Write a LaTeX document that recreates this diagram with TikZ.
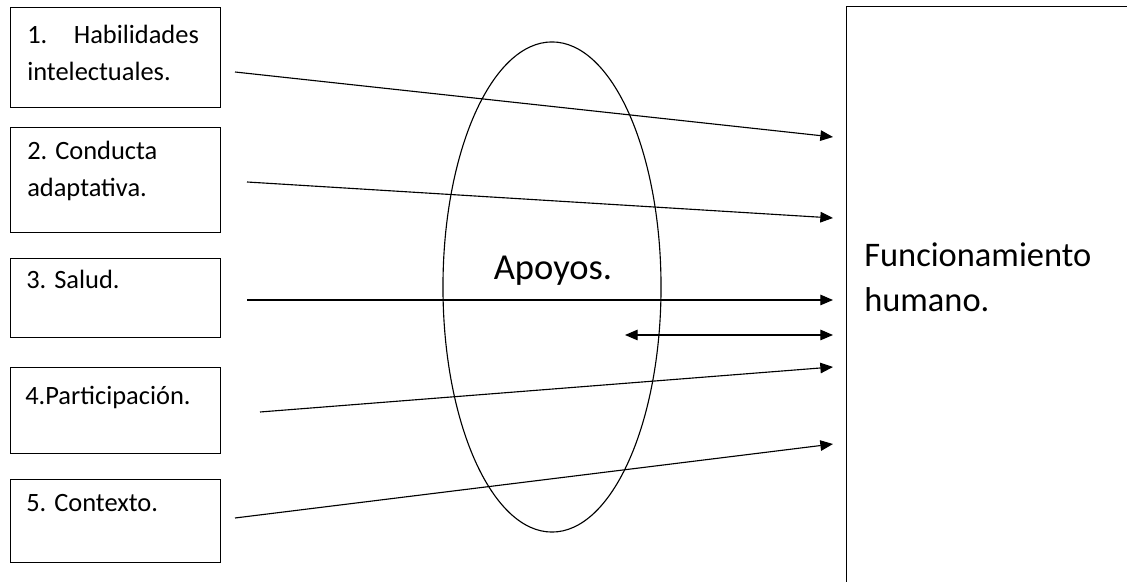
\documentclass[tikz,border=0pt]{standalone}
\usepackage{fontspec}
\setmainfont{Carlito}
\usepackage{tikz}
\usetikzlibrary{shapes,positioning,arrows.meta}

\tikzset{
  caja/.style={rectangle,draw,line width=0.8pt,minimum width=5.25cm,anchor=north west,inner sep=0pt},
  txt/.style={anchor=base west,align=left,inner sep=0pt,font=\fontsize{18.8}{26.5}\selectfont},
  flecha/.style={line width=0.8pt,-{Triangle[length=9pt,width=7.5pt]}}
}

\begin{document}
\begin{tikzpicture}[x=0.025cm,y=-0.025cm]
    \useasboundingbox (0,0) rectangle (1127,582);
    \clip (0,0) rectangle (1127,582);
    % left boxes
    \foreach \n/\yy/\h in {1/7/2.5,2/127/2.625,3/258/1.975,4/367/2.15,5/479/2.075}{
      \node[caja,minimum height=\h cm] (b\n) at (10,\yy) {};
    }
    \node[txt] (t1) at (27,81) {1.\hspace{1em}Habilidades\\intelectuales.};
    \node[txt] (t2) at (27,197) {2. Conducta\\adaptativa.};
    \node[txt] (t3) at (26,289) {3. Salud.};
    \node[txt] (t4) at (25,405) {4.Participación.};
    \node[txt] (t5) at (26,512) {5. Contexto.};
    % supports
    \node[ellipse,draw,line width=0.8pt,minimum width=5.45cm,minimum height=12.25cm] (ap) at (552,287) {};
    \node[anchor=base,inner sep=0pt,font=\fontsize{26}{30}\selectfont] (apt) at (553,280) {Apoyos.};
    % human functioning
    \node[rectangle,draw,line width=0.8pt,anchor=north west,minimum width=8cm,minimum height=16cm] (fh) at (846,6) {};
    \node[txt,font=\fontsize{24.5}{32}\selectfont] (fht) at (864,312) {Funcionamiento\\humano.};
    % arrows
    \coordinate (s_1) at (235,72);  \coordinate (e_1) at (833,137);
    \coordinate (s_2) at (247,182); \coordinate (e_2) at (833,218);
    \coordinate (s_3) at (247,300); \coordinate (e_3) at (833,300);
    \coordinate (s_4) at (260,412); \coordinate (e_4) at (833,367);
    \coordinate (s_5) at (235,518); \coordinate (e_5) at (833,444);
    \foreach \i in {1,...,5}{
      \draw[flecha] (s_\i) -- (e_\i);
    }
    \coordinate (d_1) at (625,335); \coordinate (d_2) at (833,335);
    \draw[flecha,{Triangle[length=9pt,width=7.5pt]}-{Triangle[length=9pt,width=7.5pt]}] (d_1) -- (d_2);
  \end{tikzpicture}
\end{document}
